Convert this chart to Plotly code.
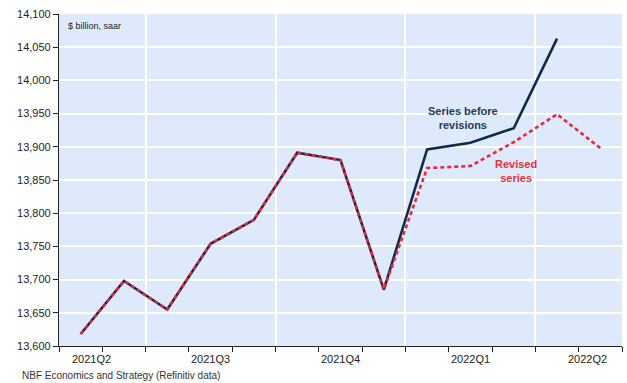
import plotly.graph_objects as go

months = ["May-21", "Jun-21", "Jul-21", "Aug-21", "Sep-21", "Oct-21", "Nov-21",
          "Dec-21", "Jan-22", "Feb-22", "Mar-22", "Apr-22", "May-22"]
before = [13618, 13698, 13655, 13754, 13790, 13891, 13880, 13685, 13896, 13906, 13928, 14063]
revised = [13618, 13698, 13655, 13754, 13790, 13891, 13880, 13685, 13868, 13871, 13907, 13949, 13898]
quarter_labels = ["2021Q2", "2021Q3", "2021Q4", "2022Q1", "2022Q2"]
quarter_label_pos = [0.74, 3.5, 6.5, 9.5, 12.2]
quarter_bounds = [2, 5, 8, 11]

NAVY = "#0E2C48"
RED = "#E8283A"
BG = "#DEEAFB"

xb = [i + 0.5 for i in range(len(before))]
xr = [i + 0.5 for i in range(len(revised))]

fig = go.Figure()
fig.add_trace(go.Scatter(x=xb, y=before, mode="lines", line=dict(color=NAVY, width=2.6),
                         name="Series before revisions", hoverinfo="skip"))
fig.add_trace(go.Scatter(x=xr, y=revised, mode="lines",
                         line=dict(color=RED, width=2.6, dash="4px,3px"),
                         name="Revised series", hoverinfo="skip"))

fig.update_layout(
    width=627, height=383,
    margin=dict(l=59, r=5, t=14, b=37),
    paper_bgcolor="white", plot_bgcolor=BG,
    showlegend=False,
    font=dict(family="Arial, Liberation Sans, sans-serif", size=11, color="#222"),
)
fig.update_xaxes(
    range=[0, 13], tickvals=quarter_bounds, showticklabels=False,
    showgrid=True, gridcolor="white", gridwidth=1.5,
    ticks="outside", ticklen=5, tickcolor="#222",
    showline=True, linecolor="#222", linewidth=1.2,
    minor=dict(dtick=1, tick0=0, ticks="outside", ticklen=5, tickcolor="#222", showgrid=False),
    zeroline=False, fixedrange=True,
)
fig.update_yaxes(
    range=[13600, 14100], dtick=50, tickformat=",",
    showgrid=True, gridcolor="white", gridwidth=1.5,
    ticks="outside", ticklen=5, tickcolor="#222",
    showline=True, linecolor="#222", linewidth=1.2,
    zeroline=False, fixedrange=True,
    tickfont=dict(size=11, color="#222"),
)

for lab, pos in zip(quarter_labels, quarter_label_pos):
    fig.add_annotation(x=pos, y=0, xref="x", yref="paper", text=lab, showarrow=False,
                       yanchor="top", yshift=-5, font=dict(size=11, color="#222"))

fig.add_annotation(x=0.012, y=0.985, xref="paper", yref="paper", text="$ billion, saar",
                   showarrow=False, xanchor="left", yanchor="top",
                   font=dict(size=9, color="#222"))
fig.add_annotation(x=9.32, y=13944, xref="x", yref="y", text="<b>Series before<br>revisions</b>",
                   showarrow=False, font=dict(size=11, color="#1D3B5E"))
fig.add_annotation(x=10.55, y=13864, xref="x", yref="y", text="<b>Revised<br>series</b>",
                   showarrow=False, font=dict(size=11, color="#E5323F"))
fig.add_annotation(x=-39/563, y=-(375-346)/332, xref="paper", yref="paper",
                   text="NBF Economics and Strategy (Refinitiv data)",
                   showarrow=False, xanchor="left", yanchor="middle",
                   font=dict(size=10, color="#333"))

fig.write_html("out.html")
